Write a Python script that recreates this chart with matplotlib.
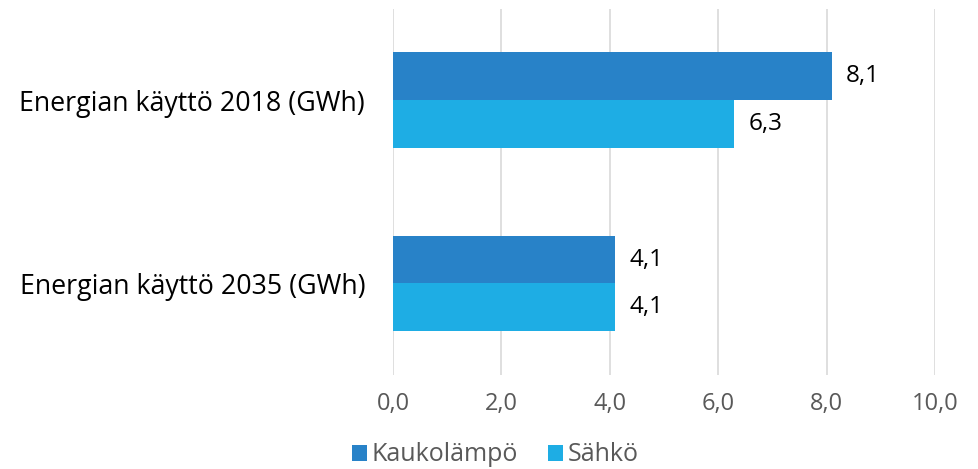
import matplotlib
matplotlib.use("Agg")
import matplotlib.pyplot as plt
from matplotlib.patches import Patch

categories = ["Energian käyttö 2035 (GWh)", "Energian käyttö 2018 (GWh)"]
series_names = ["Kaukolämpö", "Sähkö"]
kaukolampo = [4.1, 8.1]
sahko = [4.1, 6.3]
xticks = [0, 2, 4, 6, 8, 10]
colors = ["#2882C8", "#1EADE4"]

plt.rcParams["font.family"] = ["Open Sans", "DejaVu Sans"]

fig = plt.figure(figsize=(9.79, 4.69), dpi=100)
ax = fig.add_axes([0.4014, 0.2004, 0.5536, 0.7806])

h = 0.262
ypos = list(range(len(categories)))
ax.barh([y + h / 2 for y in ypos], kaukolampo, height=h, color=colors[0], zorder=3)
ax.barh([y - h / 2 for y in ypos], sahko, height=h, color=colors[1], zorder=3)

def fmt(v):
    return f"{v:.1f}".replace(".", ",")

for y, v in zip(ypos, kaukolampo):
    ax.annotate(fmt(v), (v, y + h / 2), xytext=(10, 0), textcoords="offset points",
                va="center", ha="left", fontsize=17.5, color="#000000")
for y, v in zip(ypos, sahko):
    ax.annotate(fmt(v), (v, y - h / 2), xytext=(10, 0), textcoords="offset points",
                va="center", ha="left", fontsize=17.5, color="#000000")

ax.set_xlim(0, 10)
ax.set_ylim(-0.5, 1.5)
ax.set_xticks(xticks)
ax.set_xticklabels([fmt(t) for t in xticks], fontsize=17, color="#595959")
ax.set_yticks(ypos)
ax.set_yticklabels(categories, fontsize=19.3, color="#000000")
ax.tick_params(axis="both", length=0)
ax.tick_params(axis="x", pad=12)
ax.tick_params(axis="y", pad=20)
ax.grid(axis="x", color="#D9D9D9", linewidth=1.2, zorder=0)
for s in ax.spines.values():
    s.set_visible(False)

handles = [Patch(facecolor=c, edgecolor="none") for c in colors]
fig.legend(handles, series_names, loc="center", bbox_to_anchor=(0.506, 0.03),
           ncol=2, frameon=False, fontsize=18, labelcolor="#595959",
           handlelength=0.6, handleheight=0.6, handletextpad=0.2, columnspacing=1.2,
           borderpad=0, borderaxespad=0)

fig.savefig("out.png", dpi=100)
